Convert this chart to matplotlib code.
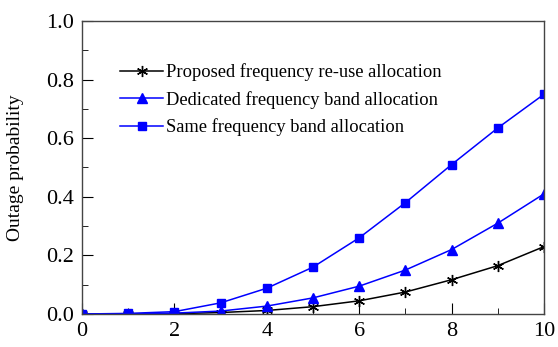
import matplotlib.pyplot as plt
from matplotlib.ticker import MultipleLocator

# === DATA ===
x_vals = [0, 1, 2, 3, 4, 5, 6, 7, 8, 9, 10]
proposed = [0.0, 0.0, 0.001, 0.005, 0.012, 0.025, 0.045, 0.075, 0.117, 0.165, 0.23]
dedicated = [0.0, 0.0, 0.003, 0.01, 0.027, 0.055, 0.095, 0.15, 0.22, 0.31, 0.41]
same_band = [0.0, 0.002, 0.008, 0.038, 0.088, 0.16, 0.26, 0.38, 0.51, 0.635, 0.75]

labels = ["Proposed frequency re-use allocation",
          "Dedicated frequency band allocation",
          "Same frequency band allocation"]

plt.rcParams['font.family'] = ['Liberation Serif', 'DejaVu Serif']

fig = plt.figure(figsize=(5.58, 3.47), dpi=100)
ax = fig.add_axes([82 / 558, 1 - 314 / 347, (544 - 82) / 558, (314 - 21) / 347])

ax.plot(x_vals, proposed, color='black', marker=(6, 2, 0), markersize=8,
        linewidth=1.1, label=labels[0])
ax.plot(x_vals, dedicated, color='blue', marker='^', markersize=7,
        linewidth=1.1, label=labels[1])
ax.plot(x_vals, same_band, color='blue', marker='s', markersize=5.5,
        linewidth=1.1, label=labels[2])

ax.set_xlim(0, 10)
ax.set_ylim(0, 1.0)
ax.xaxis.set_major_locator(MultipleLocator(2))
ax.xaxis.set_minor_locator(MultipleLocator(1))
ax.yaxis.set_major_locator(MultipleLocator(0.2))
ax.yaxis.set_minor_locator(MultipleLocator(0.1))
ax.yaxis.set_major_formatter(plt.FuncFormatter(lambda v, p: f"{v:.1f}"))
ax.tick_params(which='major', direction='in', length=8, labelsize=16,
               top=False, right=False, pad=6)
ax.tick_params(which='minor', direction='in', length=4, top=False, right=False)
for s in ax.spines.values():
    s.set_color('#444444')
    s.set_linewidth(1.0)

ax.set_ylabel("Outage probability", fontsize=14)
ax.yaxis.set_label_coords(-0.125, 0.5)

ax.legend(loc='upper left', bbox_to_anchor=(0.067, 0.88), frameon=False,
          fontsize=13.3, handlelength=2.3, handletextpad=0.15,
          labelspacing=0.52, borderaxespad=0)

fig.savefig("out.png", dpi=100)
